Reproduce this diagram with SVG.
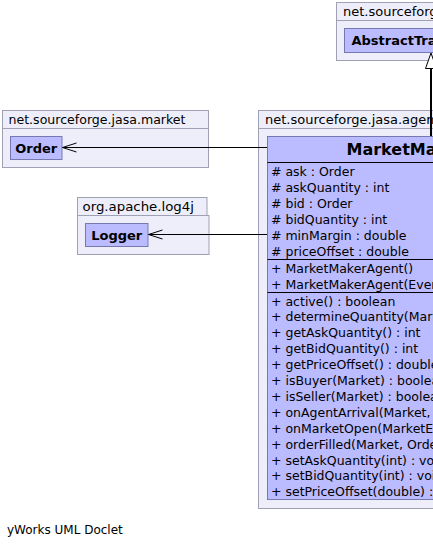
<svg xmlns="http://www.w3.org/2000/svg" width="433" height="546" viewBox="0 0 433 546">
<defs>
<style>
.pkg{fill:#eeeefa;stroke:#a0a0b4;stroke-width:1}
.cls{fill:#bbbbff;stroke:#7878b0;stroke-width:1}
.sep{stroke:#000;stroke-width:1}
.pl{font-family:"DejaVu Sans",sans-serif;font-size:13px;fill:#000}
.cn{font-family:"DejaVu Sans",sans-serif;font-size:13px;font-weight:bold;fill:#000}
.big{font-family:"DejaVu Sans",sans-serif;font-size:16px;font-weight:bold;fill:#000}
.m{font-family:"DejaVu Sans",sans-serif;font-size:12.5px;fill:#000}
.ft{font-family:"DejaVu Sans",sans-serif;font-size:12px;fill:#000}
.edge{stroke:#000;stroke-width:1;fill:none}
</style>
</defs>
<rect width="433" height="546" fill="#fff"/>

<g id="pkg-top">
<rect class="pkg" x="336.5" y="2.5" width="110" height="18"/>
<rect class="pkg" x="336.5" y="20.5" width="110" height="40"/>
<text class="pl" x="343" y="16">net.sourceforge.jasa.agent</text>
</g>
<g id="AbstractTradingAgent">
<rect class="cls" x="344.5" y="28.5" width="160" height="24"/>
<text class="cn" x="351.5" y="45">AbstractTradingAgent</text>
</g>

<g id="pkg-market">
<rect class="pkg" x="2.5" y="110.5" width="206" height="18"/>
<rect class="pkg" x="2.5" y="128.5" width="206" height="39"/>
<text class="pl" x="8.5" y="123.5" textLength="177" lengthAdjust="spacingAndGlyphs">net.sourceforge.jasa.market</text>
</g>
<g id="Order">
<rect class="cls" x="10.5" y="136.5" width="51.5" height="23"/>
<text class="cn" x="36.25" y="152.5" text-anchor="middle">Order</text>
</g>

<g id="pkg-log4j">
<rect class="pkg" x="77.5" y="197.5" width="129.5" height="18"/>
<rect class="pkg" x="77.5" y="215.5" width="131.5" height="39"/>
<text class="pl" x="82.5" y="210.5" textLength="111.5" lengthAdjust="spacingAndGlyphs">org.apache.log4j</text>
</g>
<g id="Logger">
<rect class="cls" x="85.5" y="223.5" width="62.5" height="23"/>
<text class="cn" x="116.75" y="239.5" text-anchor="middle">Logger</text>
</g>

<g id="pkg-agent">
<rect class="pkg" x="258.5" y="110.5" width="200" height="18"/>
<rect class="pkg" x="258.5" y="128.5" width="200" height="380"/>
<text class="pl" x="265" y="123.5">net.sourceforge.jasa.agent</text>
</g>
<g id="MarketMakerAgent">
<rect class="cls" x="267.5" y="136.5" width="340" height="363"/>
<line class="sep" x1="267.5" y1="162.5" x2="433" y2="162.5"/>
<line class="sep" x1="267.5" y1="259.5" x2="433" y2="259.5"/>
<line class="sep" x1="267.5" y1="292.5" x2="433" y2="292.5"/>
<text class="big" x="346.5" y="155">MarketMakerAgent</text>
<text class="m" x="271" y="176"># ask : Order</text>
<text class="m" x="271" y="191.9"># askQuantity : int</text>
<text class="m" x="271" y="207.8"># bid : Order</text>
<text class="m" x="271" y="223.7"># bidQuantity : int</text>
<text class="m" x="271" y="239.6"># minMargin : double</text>
<text class="m" x="271" y="255.5"># priceOffset : double</text>
<text class="m" x="271" y="273">+ MarketMakerAgent()</text>
<text class="m" x="271" y="288.9">+ MarketMakerAgent(EventScheduler)</text>
<text class="m" x="271" y="305.5">+ active() : boolean</text>
<text class="m" x="271" y="321.4">+ determineQuantity(Market) : int</text>
<text class="m" x="271" y="337.3">+ getAskQuantity() : int</text>
<text class="m" x="271" y="353.2">+ getBidQuantity() : int</text>
<text class="m" x="271" y="369.1">+ getPriceOffset() : double</text>
<text class="m" x="271" y="385">+ isBuyer(Market) : boolean</text>
<text class="m" x="271" y="400.9">+ isSeller(Market) : boolean</text>
<text class="m" x="271" y="416.8">+ onAgentArrival(Market, AgentPolledEvent) : void</text>
<text class="m" x="271" y="432.7">+ onMarketOpen(MarketEvent) : void</text>
<text class="m" x="271" y="448.6">+ orderFilled(Market, Order, int) : void</text>
<text class="m" x="271" y="464.5">+ setAskQuantity(int) : void</text>
<text class="m" x="271" y="480.4">+ setBidQuantity(int) : void</text>
<text class="m" x="271" y="496.3">+ setPriceOffset(double) : void</text>
</g>

<g id="connectors">
<line class="edge" x1="267" y1="147.5" x2="62.5" y2="147.5"/>
<polyline class="edge" points="76.5,143 62.5,147.5 76.5,152"/>
<line class="edge" x1="267" y1="234.5" x2="148.5" y2="234.5"/>
<polyline class="edge" points="162.5,230 148.5,234.5 162.5,239"/>
<line x1="431" y1="68.5" x2="431" y2="136" stroke="#000" stroke-width="2"/>
<polygon points="431,53 425.5,68.5 436.5,68.5" fill="#fff" stroke="#000" stroke-width="1"/>
</g>

<text class="ft" x="7" y="533.5">yWorks UML Doclet</text>
</svg>
